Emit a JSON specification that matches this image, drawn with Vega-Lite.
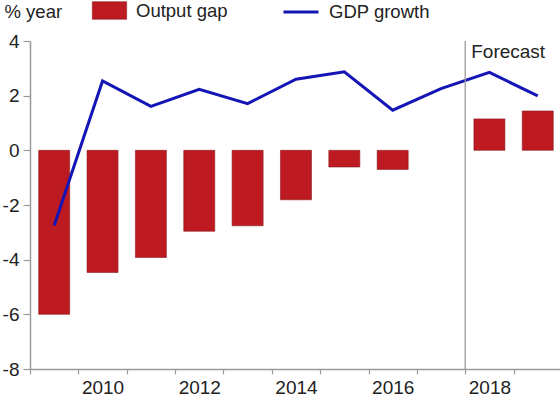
{
  "$schema": "https://vega.github.io/schema/vega-lite/v6.json",
  "width": 530,
  "height": 328,
  "autosize": "none",
  "padding": {"left": 30, "top": 41, "right": 0, "bottom": 28},
  "config": {"view": {"stroke": null}, "font": "Liberation Sans", "background": "white"},
  "datasets": {
    "econ": [
      {"year": 2009, "gap": -6.0, "growth": -2.75},
      {"year": 2010, "gap": -4.47, "growth": 2.54},
      {"year": 2011, "gap": -3.92, "growth": 1.61},
      {"year": 2012, "gap": -2.96, "growth": 2.23},
      {"year": 2013, "gap": -2.76, "growth": 1.71},
      {"year": 2014, "gap": -1.81, "growth": 2.6},
      {"year": 2015, "gap": -0.61, "growth": 2.87},
      {"year": 2016, "gap": -0.7, "growth": 1.47},
      {"year": 2017, "gap": null, "growth": 2.26},
      {"year": 2018, "gap": 1.15, "growth": 2.85},
      {"year": 2019, "gap": 1.44, "growth": 1.99}
    ],
    "notes": [
      {"year": 2017.5, "label": "Forecast"}
    ]
  },
  "layer": [
    {
      "mark": {"type": "rule", "color": "#9a9a9a", "strokeWidth": 1.5},
      "encoding": {"y": {"datum": 0, "type": "quantitative"}}
    },
    {
      "data": {"name": "econ"},
      "mark": {"type": "bar", "size": 31, "stroke": "#8a1a1f", "strokeWidth": 0.6},
      "encoding": {
        "x": {
          "field": "year", "type": "quantitative",
          "scale": {"domain": [2008.5, 2019.46], "nice": false, "zero": false, "padding": 0},
          "axis": {
            "title": null,
            "values": [2008.5, 2009.5, 2010.5, 2011.5, 2012.5, 2013.5, 2014.5, 2015.5, 2016.5, 2017.5, 2018.5],
            "labelExpr": "(datum.value + 0.5) % 2 == 0 && datum.value < 2018 ? '' + (datum.value + 0.5) : ''",
            "labelOffset": 24.2,
            "labelFlush": false,
            "labelOverlap": false,
            "labelFontSize": 19,
            "labelColor": "#222222",
            "labelPadding": 4,
            "tickSize": 5,
            "tickColor": "#9a9a9a",
            "domainColor": "#9a9a9a",
            "domainWidth": 1.5,
            "tickWidth": 1.2,
            "grid": false
          }
        },
        "y": {
          "field": "gap", "type": "quantitative",
          "scale": {"domain": [-8, 4], "nice": false},
          "axis": {
            "title": "% year",
            "titleAngle": 0,
            "titleAlign": "left",
            "titleBaseline": "alphabetic",
            "titleX": -26,
            "titleY": -24,
            "titleFontSize": 18.5,
            "titleFontWeight": "normal",
            "titleColor": "#222222",
            "values": [-8, -6, -4, -2, 0, 2, 4],
            "labelExpr": "'' + datum.value",
            "labelFontSize": 19,
            "labelColor": "#222222",
            "labelPadding": 4,
            "tickSize": 7,
            "tickColor": "#9a9a9a",
            "tickWidth": 1.2,
            "domainColor": "#9a9a9a",
            "domainWidth": 1.5,
            "grid": false
          }
        },
        "fill": {
          "datum": "Output gap",
          "scale": {"range": ["#BE1A21"]},
          "legend": {
            "title": null,
            "orient": "none",
            "legendX": 62,
            "legendY": -48,
            "padding": 0,
            "symbolType": "M-1,-0.51H1V0.51H-1Z",
            "symbolSize": 1176,
            "symbolStrokeColor": "#8a1a1f",
            "symbolStrokeWidth": 0.6,
            "labelOffset": 9,
            "labelFontSize": 18.5,
            "labelColor": "#222222"
          }
        }
      }
    },
    {
      "data": {"name": "econ"},
      "mark": {"type": "line", "strokeWidth": 3},
      "encoding": {
        "x": {"field": "year", "type": "quantitative"},
        "y": {"field": "growth", "type": "quantitative"},
        "stroke": {
          "datum": "GDP growth",
          "scale": {"range": ["#1515B5"]},
          "legend": {
            "title": null,
            "orient": "none",
            "legendX": 252,
            "legendY": -48,
            "padding": 0,
            "symbolType": "stroke",
            "symbolSize": 1225,
            "symbolStrokeWidth": 3,
            "labelOffset": 9,
            "labelFontSize": 18.5,
            "labelColor": "#222222"
          }
        }
      }
    },
    {
      "data": {"name": "notes"},
      "mark": {"type": "rule", "color": "#9a9a9a", "strokeWidth": 1.3},
      "encoding": {
        "x": {"field": "year", "type": "quantitative"},
        "y": {"datum": 4, "type": "quantitative"},
        "y2": {"datum": -8}
      }
    },
    {
      "data": {"name": "notes"},
      "mark": {"type": "text", "align": "left", "baseline": "alphabetic", "dx": 6, "dy": 17, "fontSize": 19, "color": "#222222"},
      "encoding": {
        "x": {"field": "year", "type": "quantitative"},
        "y": {"datum": 4, "type": "quantitative"},
        "text": {"field": "label"}
      }
    }
  ]
}
